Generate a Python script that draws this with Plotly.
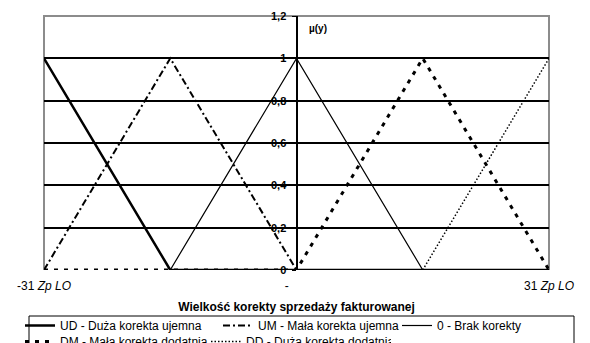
import plotly.graph_objects as go

# category positions along the correction axis (-31 .. 31 Zp LO)
x_vals = [-31, -15.5, 0, 15.5, 31]

# membership values per fuzzy set
ud = [1, 0, 0, 0, 0]
um = [0, 1, 0, None, None]
zero = [None, 0, 1, 0, None]
dm = [0, 0, 0, 1, 0]
dd = [None, None, None, 0, 1]

names = ['UD - Duża korekta ujemna', 'UM - Mała korekta ujemna', '0 - Brak korekty',
         'DM - Mała korekta dodatnia', 'DD - Duża korekta dodatnia']

x_tick_vals = [-31, -1.2, 31]
x_tick_text = ['-31 <i>Zp LO</i>', '-', '31 <i>Zp LO</i>']

FONT = 'Liberation Sans, Arial, sans-serif'

# the page body adds an 8px offset, so the figure is drawn 8px smaller
W, H = 582, 335
L, R, T, B = 36, 41, 8, 73
PW, PH = W - L - R, H - T - B


def px_x(page_x):
    return (page_x - 8 - L) / PW


def px_y(page_y):
    return (H - B - (page_y - 8)) / PH


styles = [
    dict(width=2.5, dash='solid'),
    dict(width=2, dash='7px,3px,2px,3px'),
    dict(width=1.2, dash='solid'),
    dict(width=3, dash='4px,6px'),
    dict(width=1.5, dash='1.5px,2px'),
]
legend_ids = ['legend', 'legend', 'legend', 'legend2', 'legend2']
legend_widths = [153, 134, 100, 141, 140]

fig = go.Figure()
for series, name, st, lg, lw in zip([ud, um, zero, dm, dd], names, styles, legend_ids, legend_widths):
    fig.add_trace(go.Scatter(x = x_vals, y = series, name = name, mode = 'lines',
                             line = dict(color = 'black', **st), legend = lg, legendwidth = lw))

legend_common = dict(orientation = 'h', xanchor = 'left', yanchor = 'top', borderwidth = 0,
                     bgcolor = 'rgba(0,0,0,0)', font = dict(size = 12), itemwidth = 30)

fig.update_layout(
    width = W, height = H,
    margin = dict(l = L, r = R, t = T, b = B, autoexpand = False),
    paper_bgcolor = 'white', plot_bgcolor = 'white',
    separators = ', ',
    font = dict(family = FONT, size = 12, color = 'black'),
    showlegend = True,
    legend = dict(x = px_x(20), y = px_y(311), **legend_common),
    legend2 = dict(x = px_x(20), y = px_y(327), **legend_common),
    xaxis = dict(range = [-31, 31], showgrid = False, zeroline = False, showline = False,
                 tickmode = 'array', tickvals = x_tick_vals, ticktext = x_tick_text,
                 ticks = '', ticklabelstandoff = 7, tickfont = dict(size = 12),
                 title = dict(text = '<b>Wielkość korekty sprzedaży fakturowanej</b>',
                              font = dict(size = 12), standoff = 10)),
    yaxis = dict(range = [0, 1.2], tick0 = 0, dtick = 0.2, anchor = 'free', position = 0.5,
                 showgrid = True, gridcolor = 'black', gridwidth = 2,
                 zeroline = False, showline = True, linecolor = 'black',
                 linewidth = 2, ticks = 'outside', ticklen = 4, tickcolor = 'black',
                 tickfont = dict(size = 11, weight = 'bold'),
                 ticklabelstandoff = 3),
    shapes = [dict(type = 'path', xref = 'paper', yref = 'paper', path = 'M 0,0 L 0,1 L 1,1 L 1,0',
                   line = dict(color = '#8c8c8c', width = 2), layer = 'below'),
              dict(type = 'rect', xref = 'paper', yref = 'paper',
                   x0 = px_x(29), x1 = px_x(574), y0 = px_y(316), y1 = px_y(360),
                   line = dict(color = 'black', width = 1), layer = 'below')],
    annotations = [dict(text = '<b>µ(y)</b>', xref = 'paper', yref = 'paper', x = px_x(307), y = px_y(28),
                        xanchor = 'left', yanchor = 'middle', showarrow = False,
                        font = dict(size = 10))],
)

fig.write_html("out.html")
